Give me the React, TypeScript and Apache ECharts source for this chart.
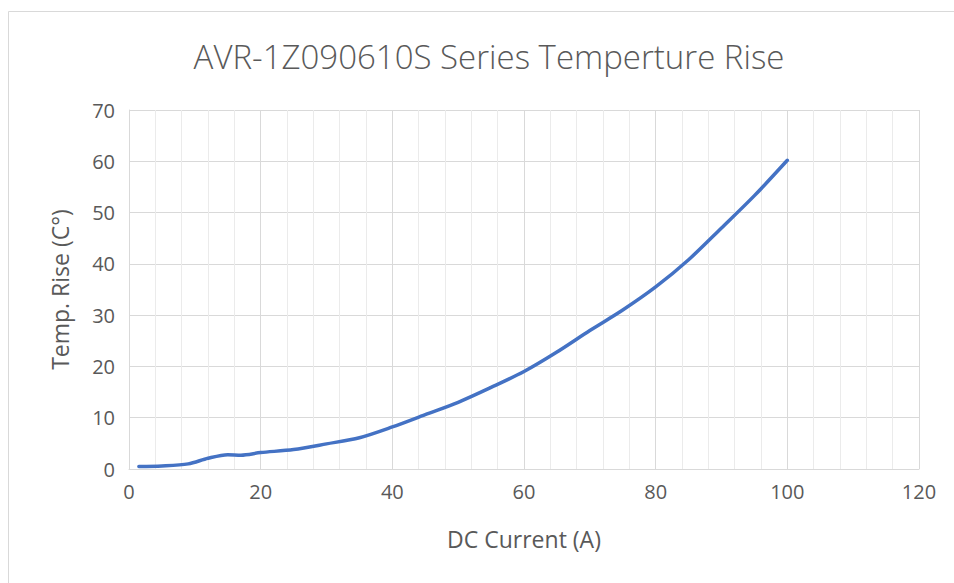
import React, { useEffect, useRef } from "react";
import * as echarts from "echarts";

const currentA: number[] = [1.5, 5, 9, 12, 15, 17, 20, 25, 30, 35, 40, 45, 50, 55, 60, 65, 70, 75, 80, 85, 90, 95, 100];
const tempRise: number[] = [0.5, 0.6, 1.0, 2.1, 2.8, 2.7, 3.2, 3.8, 4.9, 6.1, 8.2, 10.6, 13.0, 15.9, 19.0, 22.8, 27.0, 31.0, 35.5, 40.8, 47.0, 53.3, 60.2];

const titleText = "AVR-1Z090610S Series Temperture Rise";
const xAxisTitle = "DC Current (A)";
const yAxisTitle = "Temp. Rise (C°)";

export default function App() {
  const ref = useRef<HTMLDivElement>(null);
  useEffect(() => {
    if (!ref.current) return;
    const chart = echarts.init(ref.current, null, { renderer: "svg" });
    const font = "'Open Sans', sans-serif";
    chart.setOption({
      animation: false,
      backgroundColor: "#ffffff",
      title: {
        text: titleText,
        left: 484,
        top: 35,
        textAlign: "center",
        textStyle: { fontFamily: font, fontSize: 33, fontWeight: 300, color: "#595959" },
      },
      graphic: [
        {
          type: "rect",
          shape: { x: 8.5, y: 11.5, width: 960, height: 600 },
          style: { fill: "none", stroke: "#D9D9D9", lineWidth: 1 },
          silent: true,
        },
      ],
      grid: { left: 129, right: 35, top: 110, bottom: 114 },
      xAxis: {
        type: "value",
        min: 0,
        max: 120,
        interval: 20,
        name: xAxisTitle,
        nameLocation: "middle",
        nameGap: 58,
        nameTextStyle: { fontFamily: font, fontSize: 23, color: "#595959" },
        axisLine: { show: true, lineStyle: { color: "#D9D9D9", width: 1 } },
        axisTick: { show: false },
        axisLabel: { fontFamily: font, fontSize: 20, color: "#595959", margin: 12 },
        splitLine: { show: true, lineStyle: { color: "#D9D9D9", width: 1 } },
        minorTick: { show: false, splitNumber: 5 },
        minorSplitLine: { show: true, lineStyle: { color: "#EBEBEB", width: 1 } },
      },
      yAxis: {
        type: "value",
        min: 0,
        max: 70,
        interval: 10,
        name: yAxisTitle,
        nameLocation: "middle",
        nameGap: 58,
        nameRotate: 90,
        nameTextStyle: { fontFamily: font, fontSize: 23, color: "#595959" },
        axisLine: { show: true, lineStyle: { color: "#D9D9D9", width: 1 } },
        axisTick: { show: false },
        axisLabel: { fontFamily: font, fontSize: 20, color: "#595959", margin: 14 },
        splitLine: { show: true, lineStyle: { color: "#D9D9D9", width: 1 } },
      },
      series: [
        {
          type: "line",
          data: currentA.map((x, i) => [x, tempRise[i]]),
          smooth: 0.3,
          showSymbol: false,
          lineStyle: { color: "#4472C4", width: 3.5, cap: "round" },
        },
      ],
    });
    return () => chart.dispose();
  }, []);
  return <div ref={ref} style={{ position: "fixed", left: 0, top: 0, width: 954, height: 583 }} />;
}
